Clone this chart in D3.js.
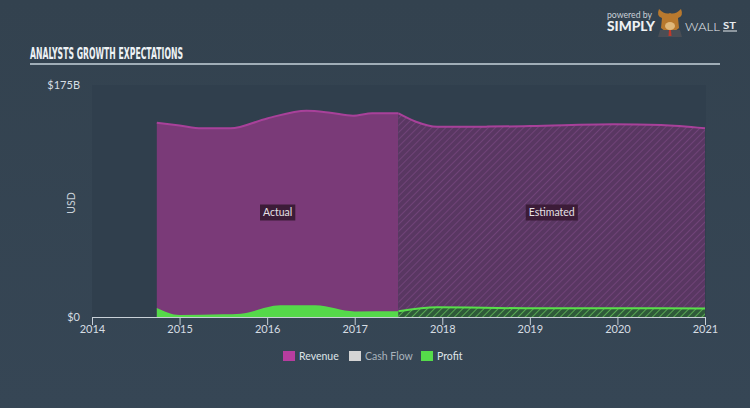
<!DOCTYPE html>
<html><head><meta charset="utf-8">
<script src="https://cdn.jsdelivr.net/npm/d3@7"></script>
<style>
html,body{margin:0;padding:0;background:#344453;}
svg{display:block;}
</style></head>
<body>
<svg id="chart" width="750" height="408"></svg>
<script>
// ---- data ----
const xTicks = [2014, 2015, 2016, 2017, 2018, 2019, 2020, 2021];
const yTickLabels = ["$0", "$175B"];
const yTickValues = [0, 175];
const legendItems = ["Revenue", "Cash Flow", "Profit"];

const revenueActualYears = [2014.74, 2015.0, 2015.25, 2015.58, 2016.0, 2016.45, 2016.72, 2016.98, 2017.2, 2017.5];
const revenueActual =      [146.5,   144.5,  142.3,   142.3,   149.8,  155.6,   154.1,   151.8,   153.6,  153.6];
const revenueEstYears = [2017.5, 2017.7, 2017.94, 2018.5, 2019.0, 2019.95, 2020.5, 2021.0];
const revenueEst =      [153.6,  147.3,  143.5,   143.6,  144.0,  145.3,   144.8,  142.3];

const profitActualYears = [2014.74, 2015.0, 2015.5, 2015.7, 2016.15, 2016.55, 2017.0, 2017.5];
const profitActual =      [6.8,     1.5,    2.0,    2.5,    8.8,     8.8,     4.2,    4.3];
const profitEstYears = [2017.5, 2017.94, 2019.0, 2020.0, 2021.0];
const profitEst =      [4.3,    7.3,     6.6,    6.6,    6.5];

// ---- layout ----
const svg = d3.select("#chart");
const W = 750, H = 408;
const FONT = "Lato, 'Open Sans', sans-serif";

const defs = svg.append("defs");
const bg = defs.append("linearGradient").attr("id","bg").attr("x1","0").attr("y1","0").attr("x2","0").attr("y2","1");
bg.append("stop").attr("offset","0").attr("stop-color","#33424f");
bg.append("stop").attr("offset","1").attr("stop-color","#364655");
svg.append("rect").attr("width",W).attr("height",H).attr("fill","url(#bg)");

function hatch(id, base, line){
  const p = defs.append("pattern").attr("id", id).attr("patternUnits","userSpaceOnUse")
    .attr("width",5).attr("height",5).attr("patternTransform","rotate(45)");
  p.append("rect").attr("width",5).attr("height",5).attr("fill",base);
  p.append("line").attr("x1",0).attr("y1",0).attr("x2",0).attr("y2",5)
    .attr("stroke",line).attr("stroke-width",1.5);
}
hatch("hatchRev", "#593762", "#784780");
hatch("hatchProf", "#2f5a3a", "#66c25a");

const x = d3.scaleLinear().domain([2014, 2021]).range([92, 705]);
const y = d3.scaleLinear().domain([0, 175]).range([317, 85]);

// plot background
svg.append("rect").attr("x", 92).attr("y", 85).attr("width", 614).attr("height", 232)
  .attr("fill", "#303f4d");

// title
svg.append("text").attr("x", 30).attr("y", 58.5)
  .attr("font-family","'Liberation Sans Narrow', 'DejaVu Sans Condensed', sans-serif")
  .attr("font-weight","bold").attr("font-size",15.5).attr("fill","#eef2f5")
  .attr("textLength",153).attr("lengthAdjust","spacingAndGlyphs")
  .text("ANALYSTS GROWTH EXPECTATIONS");
svg.append("line").attr("x1",30).attr("x2",720).attr("y1",64).attr("y2",64)
  .attr("stroke","#c6d2da").attr("stroke-width",1.5);

// logo
svg.append("text").attr("x",607).attr("y",18).attr("font-family",FONT).attr("font-size",10)
  .attr("fill","#c9d1d8").attr("textLength",45).attr("lengthAdjust","spacingAndGlyphs").text("powered by");
svg.append("text").attr("x",607).attr("y",31).attr("font-family",FONT).attr("font-weight","900")
  .attr("font-size",12.5).attr("fill","#eef1f4").attr("textLength",48).attr("lengthAdjust","spacingAndGlyphs").text("SIMPLY");
const logo = svg.append("g").attr("transform","translate(670,22)");
logo.append("path").attr("d","M-11,-13 Q-14,-6 -8,-4 L-9,6 Q0,14 9,6 L8,-4 Q14,-6 11,-13 Q5,-7 0,-9 Q-5,-7 -11,-13Z").attr("fill","#b8792e");
logo.append("ellipse").attr("cx",0).attr("cy",4).attr("rx",5).attr("ry",4).attr("fill","#e0b87a");
logo.append("path").attr("d","M-10,8 L10,8 L12,15 L-12,15Z").attr("fill","#4a4e55");
logo.append("path").attr("d","M-1,8 L1,8 L1.5,14 L-1.5,14Z").attr("fill","#c0392b");
svg.append("text").attr("x",685).attr("y",31).attr("font-family",FONT).attr("font-weight","300")
  .attr("font-size",12.5).attr("fill","#e8ecef").attr("textLength",35).attr("lengthAdjust","spacingAndGlyphs").text("WALL");
svg.append("text").attr("x",723).attr("y",28.5).attr("font-family",FONT).attr("font-weight","bold")
  .attr("font-size",9.5).attr("fill","#e8ecef").attr("textLength",13).attr("lengthAdjust","spacingAndGlyphs").text("ST");
svg.append("line").attr("x1",723).attr("x2",737).attr("y1",31).attr("y2",31).attr("stroke","#e8ecef").attr("stroke-width",1);

// areas
const curve = d3.curveMonotoneX;
const area = d3.area().x(d=>x(d[0])).y0(y(0)).y1(d=>y(d[1])).curve(curve);
const line = d3.line().x(d=>x(d[0])).y(d=>y(d[1])).curve(curve);
const zip = (a,b)=>a.map((v,i)=>[v,b[i]]);

const revA = zip(revenueActualYears, revenueActual);
const revE = zip(revenueEstYears, revenueEst);
const profA = zip(profitActualYears, profitActual);
const profE = zip(profitEstYears, profitEst);

svg.append("path").attr("d", area(revA)).attr("fill","#7a3a78");
svg.append("path").attr("d", line(revA)).attr("fill","none").attr("stroke","#a8419a").attr("stroke-width",2);
svg.append("path").attr("d", area(revE)).attr("fill","url(#hatchRev)");
svg.append("path").attr("d", line(revE)).attr("fill","none").attr("stroke","#a8419a").attr("stroke-width",2);

svg.append("path").attr("d", area(profA)).attr("fill","#55d94a");
svg.append("path").attr("d", area(profE)).attr("fill","url(#hatchProf)");
svg.append("path").attr("d", line(profE)).attr("fill","none").attr("stroke","#58df4a").attr("stroke-width",2);

// labels
function tag(cx, txt){
  const g = svg.append("g");
  const t = g.append("text").attr("x",cx).attr("y",216).attr("text-anchor","middle")
    .attr("font-family",FONT).attr("font-size",10.5).attr("fill","#e6e0e6").text(txt);
  const bb = t.node().getBBox();
  g.insert("rect","text").attr("x",bb.x-3).attr("y",204.5).attr("width",bb.width+6).attr("height",16)
    .attr("fill","#3c1c38");
}
tag((x(revenueActualYears[0]) + x(2017.5))/2, "Actual");
tag((x(2017.5) + x(2021))/2, "Estimated");

// x axis
const xAxis = d3.axisBottom(x).tickValues(xTicks).tickFormat(d3.format("d")).tickSize(8).tickSizeOuter(0);
const gx = svg.append("g").attr("transform","translate(0,317)").call(xAxis);
gx.select(".domain").attr("stroke","#c8d0d8").attr("stroke-width",1);
gx.selectAll(".tick line").attr("stroke","#c8d0d8").attr("y1",0).attr("y2",8);
gx.selectAll(".tick text").attr("fill","#d6dde3").attr("font-family",FONT).attr("font-size",11).attr("dy",null).attr("y",16);

// y labels
svg.selectAll(".ylab").data(yTickValues).enter().append("text").attr("class","ylab")
  .attr("x",80).attr("y",d=>y(d)+4).attr("text-anchor","end")
  .attr("font-family",FONT).attr("font-size",11).attr("fill","#d6dde3")
  .text((d,i)=>yTickLabels[i]);
svg.append("text").attr("transform","translate(75,203) rotate(-90)").attr("text-anchor","middle")
  .attr("font-family",FONT).attr("font-size",10.5).attr("fill","#c8d0d8").text("USD");

// legend
const legColors = ["#b73d9f", "#d4d4d4", "#55dc4a"];
const legX = [283, 349, 421];
const lg = svg.append("g");
legendItems.forEach((name,i)=>{
  lg.append("rect").attr("x",legX[i]).attr("y",351).attr("width",12).attr("height",10).attr("fill",legColors[i]);
  lg.append("text").attr("x",legX[i]+16).attr("y",360).attr("font-family",FONT).attr("font-size",10.5)
    .attr("fill", i===1 ? "#aab4bd" : "#dfe4e8").text(name);
});
</script>
</body></html>
